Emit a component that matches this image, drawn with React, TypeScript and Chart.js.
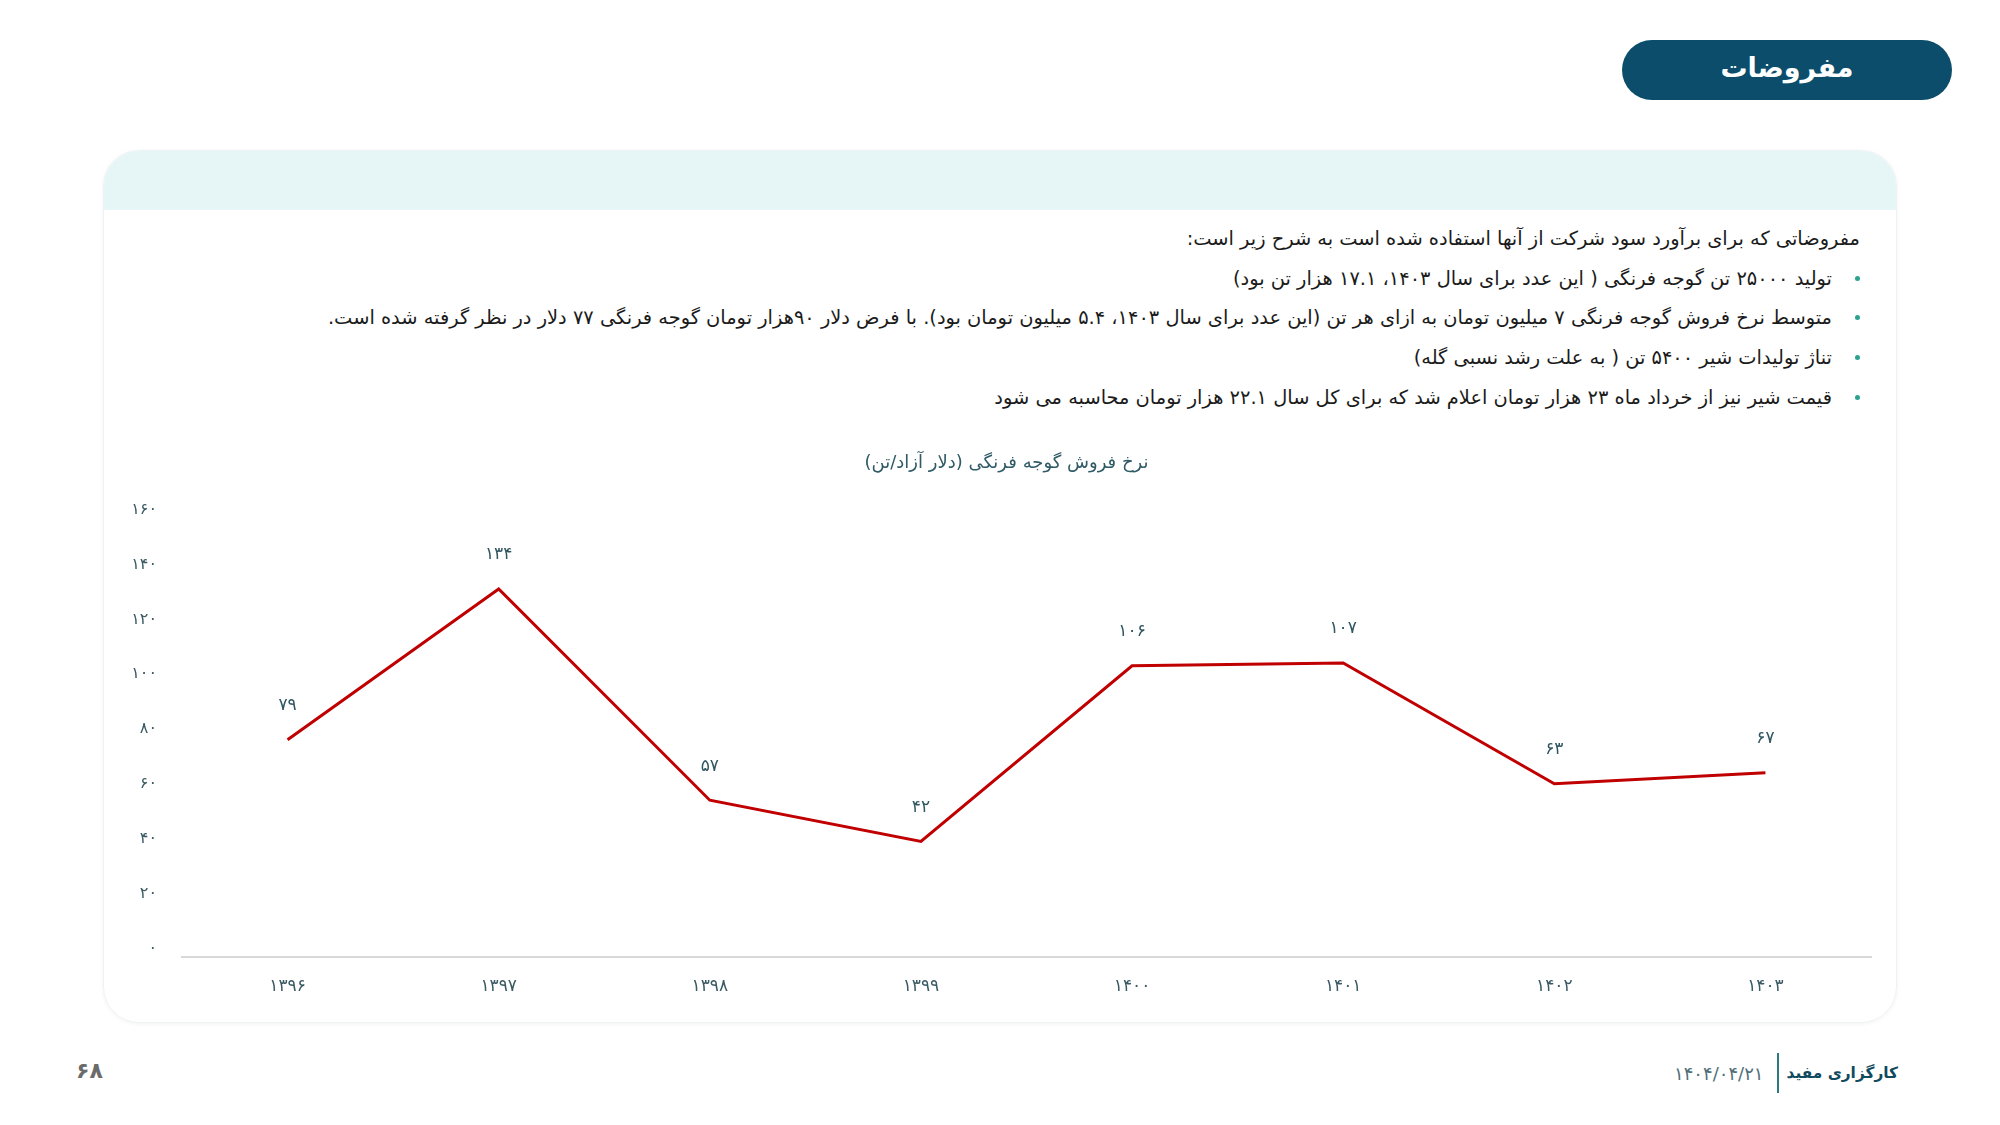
import React, { useEffect, useRef } from "react";
import { Chart, registerables } from "chart.js";

Chart.register(...registerables);

const categories = ["۱۳۹۶", "۱۳۹۷", "۱۳۹۸", "۱۳۹۹", "۱۴۰۰", "۱۴۰۱", "۱۴۰۲", "۱۴۰۳"];
const priceValues = [79, 134, 57, 42, 106, 107, 63, 67];
const yTickMin = 0;
const yTickMax = 160;
const yTickStep = 20;

const chartTitle = "نرخ فروش گوجه فرنگی (دلار آزاد/تن)";
const introLine = "مفروضاتی که برای برآورد سود شرکت از آنها استفاده شده است به شرح زیر است:";
const bulletLines = [
  "تولید ۲۵۰۰۰ تن گوجه فرنگی ( این عدد برای سال ۱۴۰۳،  ۱۷.۱ هزار تن بود)",
  "متوسط نرخ فروش گوجه فرنگی ۷ میلیون تومان به ازای هر تن (این عدد برای سال ۱۴۰۳،  ۵.۴ میلیون تومان بود). با فرض دلار ۹۰هزار تومان گوجه فرنگی ۷۷ دلار در نظر گرفته شده است.",
  "تناژ تولیدات شیر ۵۴۰۰ تن ( به علت رشد نسبی گله)",
  "قیمت شیر نیز از خرداد ماه ۲۳ هزار تومان اعلام شد که برای کل سال ۲۲.۱ هزار تومان محاسبه می شود",
];

const FONT = "'DejaVu Sans', sans-serif";

const toPersian = (v: number | string) =>
  String(v).replace(/[0-9]/g, (d) => "۰۱۲۳۴۵۶۷۸۹"[Number(d)]);

const valueLabelPlugin = {
  id: "valueLabels",
  afterDatasetsDraw(chart: any) {
    const ctx = chart.ctx;
    const meta = chart.getDatasetMeta(0);
    const data = chart.data.datasets[0].data as number[];
    ctx.save();
    ctx.font = `17px ${FONT}`;
    ctx.fillStyle = "#2f5661";
    ctx.textAlign = "center";
    ctx.textBaseline = "middle";
    meta.data.forEach((pt: any, i: number) => {
      ctx.fillText(toPersian(data[i]), pt.x, pt.y - 34);
    });
    ctx.restore();
  },
};

function PriceChart() {
  const ref = useRef<HTMLCanvasElement | null>(null);
  useEffect(() => {
    if (!ref.current) return;
    const chart = new Chart(ref.current, {
      type: "line",
      data: {
        labels: categories,
        datasets: [
          {
            data: priceValues,
            borderColor: "#c00000",
            borderWidth: 3,
            pointRadius: 0,
            pointHoverRadius: 0,
            tension: 0,
            fill: false,
          },
        ],
      },
      options: {
        animation: false,
        responsive: true,
        maintainAspectRatio: false,
        layout: { padding: { top: 6, right: 29, bottom: 0, left: 0 } },
        plugins: {
          legend: { display: false },
          tooltip: { enabled: false },
          title: {
            display: true,
            fullSize: false,
            text: chartTitle + "\u00A0\u00A0\u00A0\u00A0\u00A0\u00A0\u00A0",
            color: "#2f5a66",
            font: { family: FONT, size: 18, weight: "normal" },
            padding: { top: 17, bottom: 43 },
          },
        },
        scales: {
          x: {
            type: "category",
            offset: true,
            grid: { display: false, drawTicks: false },
            border: { display: true, color: "#d9d9d9", width: 2 },
            ticks: {
              color: "#3b5a63",
              font: { family: FONT, size: 17 },
              padding: 20,
            },
          },
          y: {
            min: yTickMin,
            max: yTickMax,
            grid: { display: false, drawTicks: false },
            border: { display: false },
            ticks: {
              stepSize: yTickStep,
              color: "#3b5a63",
              font: { family: FONT, size: 16 },
              padding: 25,
              labelOffset: -8,
              callback: (v: any) => toPersian(v),
            },
            afterFit: (scale: any) => {
              scale.width = 82;
            },
          },
        },
      },
      plugins: [valueLabelPlugin],
    });
    return () => chart.destroy();
  }, []);
  return <canvas ref={ref} />;
}

export default function App() {
  useEffect(() => {
    document.body.style.margin = "0";
  }, []);
  return (
    <div
      style={{
        position: "absolute",
        left: 0,
        top: 0,
        width: 2000,
        height: 1125,
        background: "#ffffff",
        fontFamily: FONT,
        overflow: "hidden",
      }}
    >
      {/* Header pill */}
      <div
        style={{
          position: "absolute",
          left: 1622,
          top: 40,
          width: 330,
          height: 60,
          borderRadius: 30,
          background: "#0b4d6b",
          color: "#ffffff",
          fontWeight: "bold",
          fontSize: 27,
          display: "flex",
          alignItems: "center",
          justifyContent: "center",
          direction: "rtl",
          paddingBottom: 6,
          boxSizing: "border-box",
        }}
      >
        مفروضات
      </div>

      {/* Card */}
      <div
        style={{
          position: "absolute",
          left: 103,
          top: 150,
          width: 1794,
          height: 873,
          borderRadius: 36,
          border: "1px solid #edf3f3",
          boxShadow: "0 1px 4px rgba(0,0,0,0.05)",
          overflow: "hidden",
          boxSizing: "border-box",
        }}
      >
        <div style={{ height: 59, background: "#e6f6f6" }} />
      </div>

      {/* Text block */}
      <div
        style={{
          position: "absolute",
          right: 140,
          top: 219,
          width: 1700,
          direction: "rtl",
          textAlign: "right",
          color: "#1b1b1b",
          fontSize: 19.4,
          lineHeight: "39.7px",
        }}
      >
        <div>{introLine}</div>
        {bulletLines.map((t, i) => (
          <div key={i} style={{ position: "relative", paddingRight: 28 }}>
            <span
              style={{
                position: "absolute",
                right: 0,
                top: 17,
                width: 5,
                height: 5,
                borderRadius: 3,
                background: "#2aa38f",
              }}
            />
            {t}
          </div>
        ))}
      </div>

      {/* Chart */}
      <div style={{ position: "absolute", left: 100, top: 430, width: 1800, height: 587 }}>
        <PriceChart />
      </div>

      {/* Footer */}
      <div
        style={{
          position: "absolute",
          left: 76,
          top: 1058,
          fontSize: 22,
          fontWeight: "bold",
          color: "#6b6b6b",
        }}
      >
        ۶۸
      </div>
      <div
        style={{
          position: "absolute",
          right: 102,
          top: 1053,
          height: 40,
          display: "flex",
          alignItems: "center",
          direction: "rtl",
        }}
      >
        <span style={{ fontSize: 15.4, fontWeight: "bold", color: "#0f4a5e" }}>کارگزاری مفید</span>
        <span
          style={{
            width: 2,
            height: 40,
            background: "#2a7a80",
            marginRight: 8,
            marginLeft: 13,
          }}
        />
        <span style={{ fontSize: 18, color: "#4f6f78", direction: "ltr", unicodeBidi: "isolate" }}>
          ۱۴۰۴/۰۴/۲۱
        </span>
      </div>
    </div>
  );
}
